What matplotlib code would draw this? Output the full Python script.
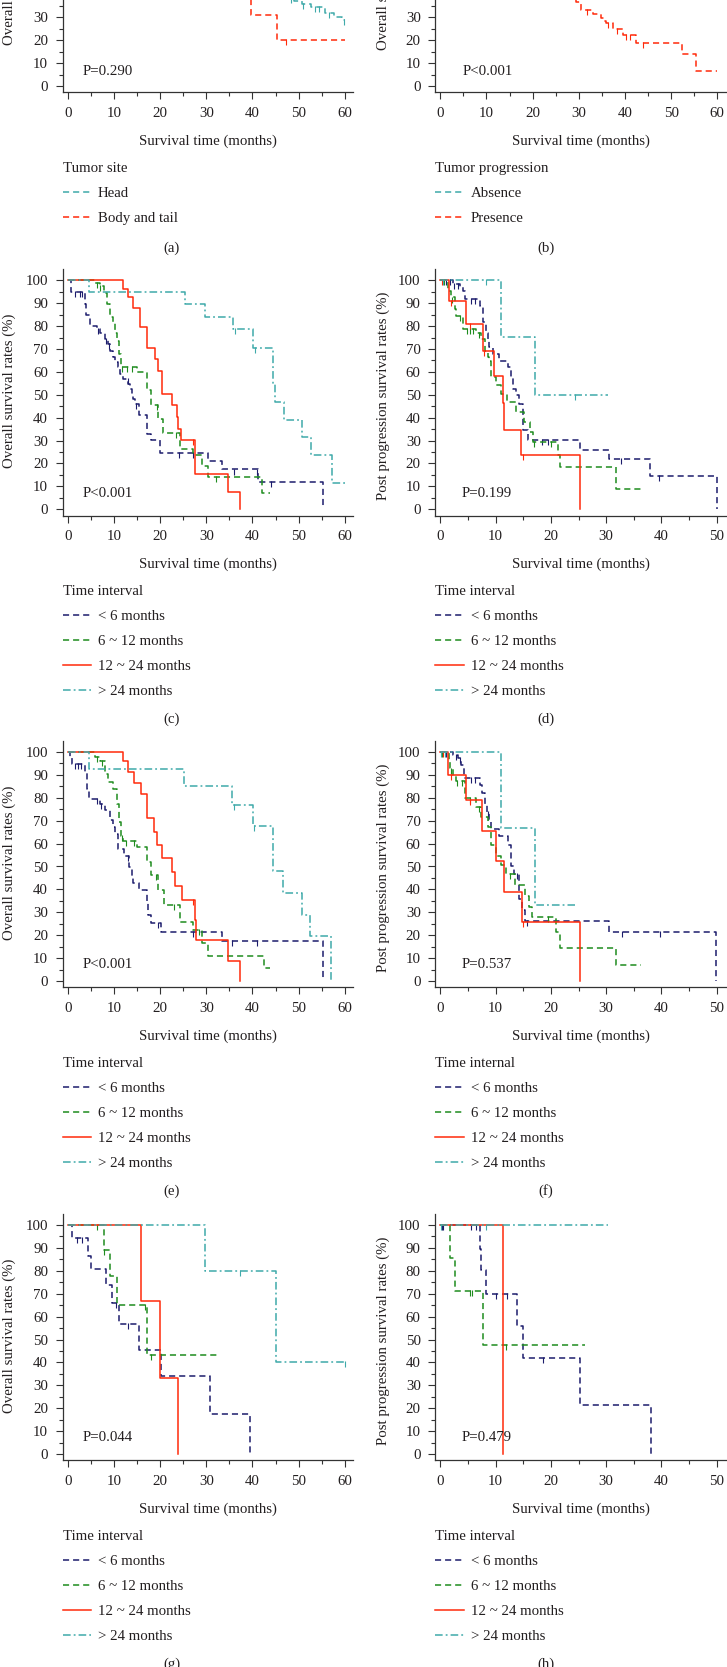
import matplotlib.pyplot as plt
from matplotlib.lines import Line2D
from matplotlib.ticker import MultipleLocator

plt.rcParams['font.family'] = ['Liberation Serif', 'DejaVu Serif']
plt.rcParams['font.size'] = 10.7

# ---------------- data (times in months, survival in %) ----------------
groups = ['< 6 months', '6 ~ 12 months', '12 ~ 24 months', '> 24 months']

# (a) tumor site -- only the lower part of the panel is in the picture
a_head_t = [45.5, 47.5, 49.0, 50.8, 52.8, 55.7, 57.6, 59.5, 60.0]
a_head_s = [40.0, 38.5, 37.0, 35.8, 34.5, 32.0, 30.3, 29.0, 29.0]
a_head_c = [48.3, 51.0, 53.5, 54.5, 56.5, 59.8]
a_body_t = [30.0, 39.6, 45.3, 60.0]
a_body_s = [40.0, 30.9, 20.2, 20.2]
a_body_c = [47.3]

# (b) tumor progression
b_pres_t = [27.0, 29.5, 30.5, 33.1, 34.9, 35.4, 35.9, 37.4, 39.5, 42.4, 52.4, 55.4, 60.0]
b_pres_s = [40.0, 36.8, 33.2, 31.4, 29.6, 28.5, 27.4, 24.7, 22.3, 18.6, 13.8, 6.7, 6.7]
b_pres_c = [31.8, 36.3, 38.2, 40.3, 41.0, 44.0]

# (c) overall survival
c_lt6_t = [0, 0.6, 3.7, 4.0, 4.8, 6.2, 6.9, 8.0, 8.7, 9.2, 9.8, 10.2, 10.9, 11.3, 12.0,
           13.1, 13.4, 13.8, 14.2, 14.5, 15.5, 17.1, 18.1, 20.0, 30.4, 33.3, 41.3, 55.4]
c_lt6_s = [100, 94.9, 89.6, 85.0, 80.1, 78.7, 77.2, 74.3, 72.2, 69.3, 66.4, 64.2, 62.0, 59.1, 57.0,
           54.8, 52.6, 50.4, 48.3, 46.1, 41.0, 33.0, 30.1, 24.6, 21.2, 17.4, 12.0, 0]
c_lt6_c = [1.5, 2.5, 3.0, 6.6, 8.3, 8.9, 13.0, 14.8, 24.0, 27.0, 36.0, 41.0, 44.0]
c_6_12_t = [0, 5.9, 6.9, 7.7, 8.4, 9.1, 9.8, 10.2, 10.6, 11.0, 11.6, 14.9, 17.1, 18.1, 19.6,
            20.7, 24.3, 27.2, 29.0, 30.4, 42.0, 43.8]
c_6_12_s = [100, 99.0, 97.5, 94.6, 89.6, 83.8, 81.6, 77.2, 73.6, 68.0, 62.0, 59.9, 51.9, 45.4, 39.6,
            33.3, 26.5, 23.6, 18.8, 14.2, 7.0, 7.0]
c_6_12_c = [6.3, 7.0, 11.8, 12.9, 13.9, 19.2, 23.5, 32.0]
c_12_24_t = [0, 11.9, 13.1, 14.2, 15.6, 17.1, 18.9, 19.6, 20.3, 22.5, 23.6, 23.9, 24.4, 27.5, 34.8, 37.3]
c_12_24_s = [100, 96.1, 92.5, 88.1, 79.4, 70.4, 65.7, 60.6, 50.4, 45.4, 40.3, 35.2, 30.1, 15.2, 7.4, 0]
c_12_24_c = [27.0]
c_gt24_t = [0, 4.6, 25.4, 29.7, 35.7, 40.2, 44.4, 44.9, 46.9, 50.7, 52.6, 57.3, 60.1]
c_gt24_s = [100, 95.1, 89.6, 84.1, 78.7, 70.4, 54.5, 46.8, 38.8, 31.6, 23.9, 11.6, 11.6]
c_gt24_c = [36.3, 40.6]

# (d) post progression survival
d_lt6_t = [0, 2.3, 3.5, 4.1, 4.4, 7.1, 7.7, 8.2, 8.6, 8.9, 9.5, 10.7, 12.2, 12.8, 13.1, 13.7,
           14.2, 14.9, 15.8, 25.2, 30.5, 38.0, 50.0]
d_lt6_s = [100, 98.6, 97.1, 95.4, 91.7, 88.8, 81.6, 77.2, 73.6, 70.7, 67.8, 64.9, 62.0, 57.7, 52.6, 49.7,
           46.1, 34.5, 30.1, 26.1, 21.9, 14.6, 0]
d_lt6_c = [1.0, 1.8, 2.5, 3.2, 5.6, 6.2, 18.4, 19.5, 32.7, 39.5]
d_6_12_t = [0, 1.4, 2.0, 2.6, 2.9, 4.1, 6.5, 7.4, 8.0, 8.6, 8.9, 9.2, 10.1, 11.0, 12.0, 13.7,
            15.2, 16.2, 16.7, 21.3, 21.7, 31.7, 36.3]
d_6_12_s = [100, 95.4, 92.5, 87.4, 84.5, 78.7, 77.2, 74.3, 69.3, 66.4, 64.9, 57.7, 54.1, 50.4, 46.8, 42.5,
            38.1, 33.8, 29.4, 23.9, 18.3, 9.0, 9.0]
d_6_12_c = [0.6, 2.2, 3.5, 4.8, 5.4, 6.0, 7.0, 17.0, 20.0]
d_12_24_t = [0, 1.6, 4.7, 7.7, 9.8, 11.3, 11.6, 14.6, 25.2]
d_12_24_s = [100, 91.0, 80.9, 69.3, 58.0, 46.4, 34.8, 23.6, 0]
d_12_24_c = [0.3, 1.9, 5.3, 7.9, 15.0]
d_gt24_t = [0, 11.0, 17.1, 30.3]
d_gt24_s = [100, 75.1, 50.1, 50.1]
d_gt24_c = [0.5, 8.2, 24.3]

# (e) overall survival
e_lt6_t = [0, 0.4, 0.8, 3.7, 4.2, 4.6, 6.9, 8.0, 9.1, 9.7, 10.2, 10.9, 12.1, 13.3, 13.8, 14.2,
           15.3, 17.1, 17.4, 18.1, 20.1, 33.3, 55.4]
e_lt6_s = [100, 97.2, 94.6, 91.3, 84.0, 79.6, 77.4, 74.5, 70.1, 67.2, 64.2, 57.6, 54.7, 49.6, 45.2, 42.7,
           39.7, 34.9, 29.0, 25.4, 21.6, 17.3, 0]
e_lt6_c = [1.5, 2.2, 2.8, 6.3, 7.2, 13.0, 19.5, 27.0, 35.5, 41.0]
e_6_12_t = [0, 5.9, 6.9, 8.0, 8.7, 9.8, 10.6, 11.1, 11.6, 12.0, 14.9, 17.1, 18.1, 19.6, 20.9,
            24.3, 27.2, 29.0, 30.4, 42.4, 43.8]
e_6_12_s = [100, 97.9, 96.0, 90.6, 86.9, 84.0, 77.4, 69.4, 63.5, 61.3, 58.4, 51.8, 46.5, 39.7, 33.0,
            25.7, 22.1, 16.6, 10.7, 5.6, 5.6]
e_6_12_c = [6.3, 7.3, 11.8, 12.6, 14.3, 19.0, 23.0, 28.5]
e_12_24_t = [0, 12.0, 13.1, 14.4, 15.8, 17.1, 18.7, 19.4, 20.3, 22.5, 23.2, 24.7, 27.5, 27.8, 34.8, 37.2]
e_12_24_s = [100, 96.0, 91.1, 86.5, 81.8, 71.1, 65.2, 59.4, 53.5, 47.4, 41.5, 35.3, 26.8, 17.7, 8.9, 0]
e_12_24_c = [27.0]
e_gt24_t = [0, 4.6, 25.2, 35.5, 40.1, 44.4, 46.7, 50.7, 52.5, 57.1]
e_gt24_s = [100, 92.5, 85.0, 77.0, 67.6, 48.1, 38.6, 29.0, 19.8, 0]
e_gt24_c = [35.9, 40.3]

# (f) post progression survival
f_lt6_t = [0, 2.3, 3.2, 3.8, 4.2, 7.1, 7.6, 8.0, 8.4, 8.8, 9.2, 10.7, 12.2, 12.8, 13.4, 14.3,
           14.8, 15.4, 30.6, 49.9]
f_lt6_s = [100, 98.7, 97.2, 94.3, 88.5, 85.5, 81.9, 76.8, 73.8, 70.2, 66.5, 63.3, 59.2, 50.4, 46.8, 35.8,
           31.1, 26.3, 21.6, 0]
f_lt6_c = [1.0, 2.8, 3.5, 5.5, 6.2, 8.7, 13.8, 15.6, 32.8, 39.8]
f_6_12_t = [0, 1.6, 1.8, 2.3, 2.9, 4.4, 6.5, 7.4, 8.6, 9.2, 10.0, 11.0, 11.9, 13.6, 15.4,
            16.0, 16.6, 21.0, 21.6, 31.7, 36.3]
f_6_12_s = [100, 95.8, 92.8, 89.9, 87.3, 80.0, 76.0, 71.6, 67.3, 59.2, 54.8, 50.7, 46.8, 42.0, 37.3,
            32.2, 27.8, 21.2, 14.3, 7.0, 7.0]
f_6_12_c = [0.3, 2.0, 3.0, 3.9, 5.3, 7.0, 12.6, 19.5]
f_12_24_t = [0, 1.4, 4.7, 7.6, 10.0, 11.6, 14.8, 25.2]
f_12_24_s = [100, 89.9, 78.9, 65.4, 52.2, 39.0, 25.9, 0]
f_12_24_c = [0.5, 1.9, 5.4, 15.0]
f_gt24_t = [0, 11.0, 17.2, 24.4]
f_gt24_s = [100, 66.8, 33.3, 33.3]
f_gt24_c = [0.2, 0.8]

# (g) overall survival
g_lt6_t = [0, 0.8, 4.4, 4.9, 8.2, 9.5, 11.1, 15.5, 20.1, 30.8, 39.5]
g_lt6_s = [100, 94.4, 86.5, 81.0, 73.7, 66.1, 56.9, 45.3, 33.9, 17.4, 0]
g_lt6_c = [2.0, 3.0, 10.5, 13.0]
g_6_12_t = [0, 7.9, 9.0, 10.6, 17.1, 32.4]
g_6_12_s = [100, 89.2, 77.8, 65.1, 43.3, 43.3]
g_6_12_c = [6.3, 7.9, 16.8, 18.0]
g_12_24_t = [0, 15.8, 20.0, 23.9]
g_12_24_s = [100, 66.7, 33.3, 0]
g_12_24_c = []
g_gt24_t = [0, 29.7, 45.1, 60.1]
g_gt24_s = [100, 80.0, 40.1, 40.1]
g_gt24_c = [37.2, 60.0]

# (h) post progression survival
h_lt6_t = [0, 7.1, 7.4, 8.3, 13.9, 15.0, 25.3, 38.1]
h_lt6_s = [100, 89.6, 80.4, 69.9, 56.0, 41.8, 21.2, 0]
h_lt6_c = [0.3, 0.5, 5.6, 6.5, 10.0, 12.0, 18.5]
h_6_12_t = [0, 1.7, 2.7, 7.7, 26.1]
h_6_12_s = [100, 85.7, 71.3, 47.7, 47.7]
h_6_12_c = [5.3, 5.8, 11.8]
h_12_24_t = [0, 11.3]
h_12_24_s = [100, 0]
h_12_24_c = []
h_gt24_t = [0, 30.3]
h_gt24_s = [100, 100]
h_gt24_c = [0.2, 8.2]

p_values = ['P=0.290', 'P<0.001', 'P<0.001', 'P=0.199', 'P<0.001', 'P=0.537', 'P=0.044', 'P=0.479']
panel_tags = ['(a)', '(b)', '(c)', '(d)', '(e)', '(f)', '(g)', '(h)']

# ---------------- style ----------------
NAVY = '#1c1c6c'
GREEN = '#1e8c1e'
RED = '#ff2a0a'
TEAL = '#3faaaa'
TXT = '#231f20'
DASH = (0, (4.0, 2.6))
DASHDOT = (0, (5.0, 2.0, 1.2, 2.0))
grp_style = [(NAVY, DASH), (GREEN, DASH), (RED, '-'), (TEAL, DASHDOT)]

W, H = 727, 1667
PX_Y = 2.29
YLIM = (-2.8, 105.0)
LEFT_X = [62.7, 435.3]
AX_W = 290.3
ROW_Y0 = [86.0, 509.3, 981.0, 1454.0]


def surv_at(ts, ss, x):
    v = ss[0]
    for t, s in zip(ts, ss):
        if t <= x:
            v = s
    return v


def km(ax, ts, ss, cens, color, ls):
    ax.step(ts, ss, where='post', color=color, ls=ls, lw=1.1)
    if cens:
        ys = [surv_at(ts, ss, c) - 0.9 for c in cens]
        ax.plot(cens, ys, ls='none', marker='|', ms=4, mew=0.8, color=color)


fig = plt.figure(figsize=(W / 100, H / 100), dpi=100)

panels = [
    dict(col=0, row=0, xlim=(-1.15, 61.8), ylab='Overall survival rates (%)',
         curves=[(a_head_t, a_head_s, a_head_c, TEAL, DASH), (a_body_t, a_body_s, a_body_c, RED, DASH)],
         ltitle='Tumor site', lentries=[('Head', TEAL, DASH), ('Body and tail', RED, DASH)], px=3.1),
    dict(col=1, row=0, xlim=(-1.08, 61.8), ylab='Overall survival rates (%)',
         curves=[(b_pres_t, b_pres_s, b_pres_c, RED, DASH)],
         ltitle='Tumor progression', lentries=[('Absence', TEAL, DASH), ('Presence', RED, DASH)], px=4.9),
    dict(col=0, row=1, xlim=(-1.15, 61.8), ylab='Overall survival rates (%)',
         curves=[(c_lt6_t, c_lt6_s, c_lt6_c), (c_6_12_t, c_6_12_s, c_6_12_c),
                 (c_12_24_t, c_12_24_s, c_12_24_c), (c_gt24_t, c_gt24_s, c_gt24_c)],
         ltitle='Time interval', px=3.1),
    dict(col=1, row=1, xlim=(-0.9, 51.6), ylab='Post progression survival rates (%)',
         curves=[(d_lt6_t, d_lt6_s, d_lt6_c), (d_6_12_t, d_6_12_s, d_6_12_c),
                 (d_12_24_t, d_12_24_s, d_12_24_c), (d_gt24_t, d_gt24_s, d_gt24_c)],
         ltitle='Time interval', px=3.8),
    dict(col=0, row=2, xlim=(-1.15, 61.8), ylab='Overall survival rates (%)',
         curves=[(e_lt6_t, e_lt6_s, e_lt6_c), (e_6_12_t, e_6_12_s, e_6_12_c),
                 (e_12_24_t, e_12_24_s, e_12_24_c), (e_gt24_t, e_gt24_s, e_gt24_c)],
         ltitle='Time interval', px=3.1),
    dict(col=1, row=2, xlim=(-0.9, 51.6), ylab='Post progression survival rates (%)',
         curves=[(f_lt6_t, f_lt6_s, f_lt6_c), (f_6_12_t, f_6_12_s, f_6_12_c),
                 (f_12_24_t, f_12_24_s, f_12_24_c), (f_gt24_t, f_gt24_s, f_gt24_c)],
         ltitle='Time internal', px=3.8),
    dict(col=0, row=3, xlim=(-1.15, 61.8), ylab='Overall survival rates (%)',
         curves=[(g_lt6_t, g_lt6_s, g_lt6_c), (g_6_12_t, g_6_12_s, g_6_12_c),
                 (g_12_24_t, g_12_24_s, g_12_24_c), (g_gt24_t, g_gt24_s, g_gt24_c)],
         ltitle='Time interval', px=3.1),
    dict(col=1, row=3, xlim=(-0.9, 51.6), ylab='Post progression survival rates (%)',
         curves=[(h_lt6_t, h_lt6_s, h_lt6_c), (h_6_12_t, h_6_12_s, h_6_12_c),
                 (h_12_24_t, h_12_24_s, h_12_24_c), (h_gt24_t, h_gt24_s, h_gt24_c)],
         ltitle='Time interval', px=3.8),
]

for i, p in enumerate(panels):
    col, row = p['col'], p['row']
    y0 = ROW_Y0[row]
    left = LEFT_X[col]
    bottom_px = y0 - YLIM[0] * PX_Y
    height_px = (YLIM[1] - YLIM[0]) * PX_Y
    ax = fig.add_axes([left / W, 1 - bottom_px / H, AX_W / W, height_px / H])
    ax.set_xlim(p['xlim'])
    ax.set_ylim(YLIM)

    if len(p['curves'][0]) == 5:
        for ts, ss, cs, color, ls in p['curves']:
            km(ax, ts, ss, cs, color, ls)
        entries = p['lentries']
    else:
        for (ts, ss, cs), (color, ls) in zip(p['curves'], grp_style):
            km(ax, ts, ss, cs, color, ls)
        entries = [(g, c, l) for g, (c, l) in zip(groups, grp_style)]

    for s in ['top', 'right']:
        ax.spines[s].set_visible(False)
    for s in ['left', 'bottom']:
        ax.spines[s].set_linewidth(0.9)
        ax.spines[s].set_color('#333333')
    ax.xaxis.set_major_locator(MultipleLocator(10))
    ax.xaxis.set_minor_locator(MultipleLocator(5))
    ax.yaxis.set_major_locator(MultipleLocator(10))
    ax.yaxis.set_minor_locator(MultipleLocator(5))
    ax.tick_params(which='major', direction='out', length=5, width=0.8, pad=5.5,
                   labelsize=10.7, colors='#333333', labelcolor=TXT)
    ax.tick_params(which='minor', direction='out', length=3, width=0.8, colors='#333333')
    ax.set_xticks([v for v in range(0, 61, 10) if v <= p['xlim'][1]])
    ax.set_yticks(range(0, 101, 10))
    ax.set_xticks([v for v in range(5, 61, 10) if v <= p['xlim'][1]], minor=True)
    ax.set_yticks(range(5, 101, 10), minor=True)

    ax.text(p['px'], 7.0 if row > 0 else 6.2, p_values[i], ha='left', va='center', color=TXT)

    cx = left + AX_W / 2
    fig.text(cx / W, 1 - (y0 + 55) / H, 'Survival time (months)', ha='center', va='center', color=TXT)
    ylx = 9.5 if col == 0 else 383.0
    yly = y0 - (118 if col == 0 else 113)
    fig.text(ylx / W, 1 - yly / H, p['ylab'], rotation=90, ha='center', va='center', color=TXT)

    handles = [Line2D([], [], color=c, ls=l, lw=1.1) for _, c, l in entries]
    leg = ax.legend(handles, [e[0] for e in entries], title=p['ltitle'], loc='upper left',
                    bbox_to_anchor=(left / W, 1 - (y0 + 76) / H), bbox_transform=fig.transFigure,
                    frameon=False, alignment='left', borderpad=0, borderaxespad=0,
                    handlelength=1.9, handletextpad=0.47, labelspacing=0.78, fontsize=10.7,
                    title_fontsize=10.7)
    for t in leg.get_texts():
        t.set_color(TXT)
    leg.get_title().set_color(TXT)

    tag_x = 172 if col == 0 else 546
    tag_y = y0 + (162 if row == 0 else 210)
    fig.text(tag_x / W, 1 - tag_y / H, panel_tags[i], ha='center', va='center', color=TXT)

fig.savefig('out.png', dpi=100)
